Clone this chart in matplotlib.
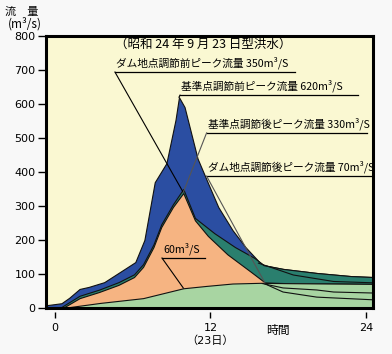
import numpy as np
import matplotlib.pyplot as plt

plt.rcParams['font.family'] = ['DejaVu Sans', 'Noto Sans CJK JP']
jp = ['Noto Sans CJK JP', 'DejaVu Sans']

# 基準点調節前 (outer envelope)
t_a = [-0.7, 0.5, 1.1, 1.9, 2.6, 3.8, 4.9, 6.2, 6.9, 7.7, 8.6, 9.3, 9.57, 10.0,
       11.0, 11.8, 12.6, 13.7, 14.7, 15.7, 16.1, 17.6, 20.2, 22.8, 24.6]
q_a = [8, 14, 30, 56, 62, 76, 103, 135, 200, 370, 426, 553, 620, 591,
       440, 368, 297, 229, 179, 138, 126, 115, 103, 94, 91]
# teal band top
t_b = [0.5, 1.9, 3.4, 4.9, 6.1, 6.8, 7.6, 8.2, 9.1, 9.9, 10.8, 12.3, 13.9,
       15.4, 15.7, 16.1, 17.6, 20.2, 22.8, 24.6]
q_b = [3, 36, 54, 76, 99, 129, 187, 246, 305, 350, 265, 220, 179,
       147, 138, 126, 115, 103, 94, 91]
# 基準点調節後
t_c = [0.6, 1.9, 3.4, 4.9, 6.1, 6.8, 7.6, 8.2, 9.1, 9.9, 10.8, 11.8, 13.3,
       15.2, 16.2, 18.0, 20.0, 22.0, 24.6]
q_c = [0, 29, 47, 68, 91, 121, 179, 238, 297, 338, 258, 212, 158,
       104, 75, 73, 72, 72, 71]
# ダム地点調節後
t_d = [0.6, 3.5, 6.8, 9.9, 11.7, 13.7, 15.8, 18.0, 21.0, 24.6]
q_d = [0, 15, 29, 58, 65, 72, 74, 73, 72, 71]
# recession lines
t_e = [16.0, 17.6, 20.2, 21.5, 24.6]
q_e = [72, 59, 53, 47, 44]
t_f = [16.2, 17.6, 20.2, 24.6]
q_f = [71, 47, 32, 24]
t_g = [15.7, 18.4, 21.5, 24.6]
q_g = [132, 97, 78, 74]

xticks = [0, 12, 24]
xlabels = ['0', '12\n（23日）', '24']
yticks = list(range(0, 801, 100))

fig = plt.figure(figsize=(3.92, 3.54), dpi=100, facecolor='#f8f8f8')
ax = fig.add_axes([46/392, 1-308/354, 327/392, 272/354])
ax.set_facecolor('#faf8d2')

ax.fill_between(t_a, q_a, 0, facecolor='#2b4ea2', edgecolor='#111111', lw=0.8)
ax.fill_between(t_b, q_b, 0, facecolor='#2a7f6e', edgecolor='#111111', lw=0.8)
ax.fill_between(t_c, q_c, 0, facecolor='#f6b482', edgecolor='#111111', lw=0.8)
ax.fill_between(t_d, q_d, 0, facecolor='#a8d5a2', edgecolor='#111111', lw=0.8)
ax.plot(t_e, q_e, color='#111111', lw=0.8)
ax.plot(t_f, q_f, color='#111111', lw=0.8)
ax.plot(t_g, q_g, color='#111111', lw=0.8)

ax.set_xlim(-0.69, 24.54)
ax.set_ylim(0, 800)
for s in ax.spines.values():
    s.set_linewidth(2.2)
ax.set_yticks(yticks)
ax.tick_params(axis='y', length=6, width=1, pad=1.5, labelsize=8)
ax.set_xticks(xticks)
ax.set_xticklabels(xlabels, fontsize=8)
ax.tick_params(axis='x', length=0, pad=11)
ax.plot(xticks, [-0.027] * len(xticks), ls='none', marker='|', ms=4, mew=1,
        color='k', transform=ax.get_xaxis_transform(), clip_on=False)

# labels with underline and leader
notes = [
    ('ダム地点調節前ピーク流量 350m³/S', 4.63, 18.5, 694, 9.9, 340, 'k'),
    ('基準点調節前ピーク流量 620m³/S', 9.65, 23.4, 626, 9.57, 620, 'k'),
    ('基準点調節後ピーク流量 330m³/S', 11.7, 24.1, 515, 9.9, 340, '#555555'),
    ('ダム地点調節後ピーク流量 70m³/S', 11.7, 24.5, 388, 16.2, 74, '#555555'),
    ('60m³/S', 8.26, 11.6, 147, 9.9, 59, 'k'),
]
for txt, x0, x1, yl, xt, yt, c in notes:
    ax.plot([x1, x0], [yl, yl], color='k', lw=0.9, clip_on=False)
    ax.plot([x0, xt], [yl, yt], color=c, lw=0.8)
    ax.text(x0 + 0.1, yl + 8, txt, fontsize=7.7, family=jp, ha='left', va='bottom')

ax.text(11.4, 776, '（昭和 24 年 9 月 23 日型洪水）', fontsize=9, family=jp,
        ha='center', va='center')

fig.text(22/392, 1-12/354, '流　量', fontsize=8, family=jp, ha='center', va='center')
fig.text(25/392, 1-24/354, '(m³/s)', fontsize=8.5, family=jp, ha='center', va='center')
fig.text(278/392, 1-330/354, '時間', fontsize=8.5, family=jp, ha='center', va='center')

fig.savefig('out.png', dpi=100, facecolor=fig.get_facecolor())
